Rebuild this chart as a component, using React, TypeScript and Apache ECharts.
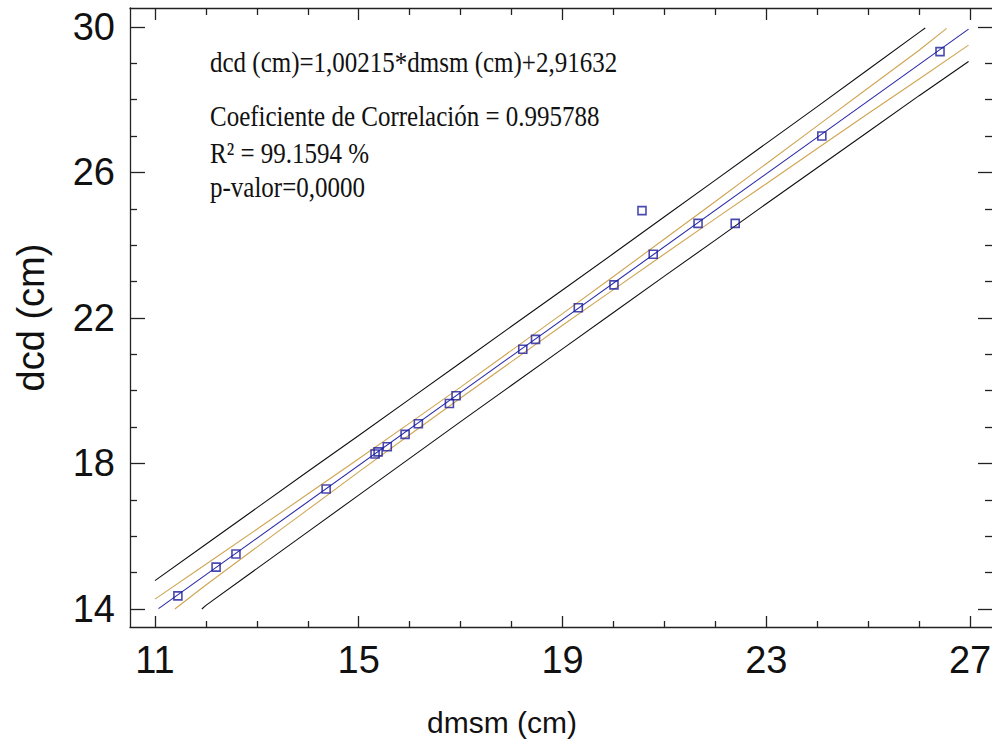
import React, { useEffect, useRef } from "react";
import * as echarts from "echarts";

// ---- data ----
const dmsm = [11.45, 12.2, 12.59, 14.36, 15.32, 15.38, 15.56, 15.91, 16.17, 16.78, 16.91, 18.22, 18.47, 19.31, 20.01, 20.56, 20.78, 21.66, 22.39, 24.09, 26.41];
const dcd = [14.36, 15.15, 15.51, 17.3, 18.26, 18.32, 18.46, 18.8, 19.09, 19.65, 19.86, 21.14, 21.41, 22.28, 22.91, 24.95, 23.75, 24.6, 24.6, 27.0, 29.32];

const fitX = [11.07, 26.97];
const fitY = [14.01, 29.94];

const confUpperX = [11, 12, 13, 14, 15, 16, 17, 18, 19, 20, 21, 22, 23, 24, 25, 26, 26.54];
const confUpperY = [14.27, 15.23, 16.19, 17.16, 18.13, 19.11, 20.1, 21.11, 22.12, 23.14, 24.17, 25.2, 26.24, 27.28, 28.32, 29.36, 29.96];
const confLowerX = [11.39, 12, 13, 14, 15, 16, 17, 18, 19, 20, 21, 22, 23, 24, 25, 26, 26.97];
const confLowerY = [14.0, 14.66, 15.7, 16.73, 17.77, 18.79, 19.8, 20.8, 21.8, 22.78, 23.76, 24.73, 25.69, 26.66, 27.62, 28.57, 29.5];

const predUpperX = [11, 12, 13, 14, 15, 16, 17, 18, 19, 20, 21, 22, 23, 24, 25, 26, 26.12];
const predUpperY = [14.78, 15.78, 16.78, 17.78, 18.77, 19.77, 20.77, 21.77, 22.77, 23.77, 24.78, 25.79, 26.8, 27.81, 28.83, 29.85, 29.97];
const predLowerX = [11.92, 12, 13, 14, 15, 16, 17, 18, 19, 20, 21, 22, 23, 24, 25, 26, 26.97];
const predLowerY = [14.0, 14.1, 15.11, 16.12, 17.13, 18.14, 19.15, 20.15, 21.15, 22.15, 23.15, 24.14, 25.14, 26.13, 27.12, 28.11, 29.05];

const xMajorTicks = [11, 15, 19, 23, 27];
const xMinorTicks = [12, 13, 14, 16, 17, 18, 20, 21, 22, 24, 25, 26];
const yMajorTicks = [14, 18, 22, 26, 30];
const yMinorTicks = [15, 16, 17, 19, 20, 21, 23, 24, 25, 27, 28, 29];

const X_MIN = 10.51;
const X_MAX = 27.45;
const Y_MIN = 13.505;
const Y_MAX = 30.52;

const annotationLines = [
  "dcd (cm)=1,00215*dmsm (cm)+2,91632",
  "Coeficiente de Correlación = 0.995788",
  "R² = 99.1594 %",
  "p-valor=0,0000",
];

const zip = (a: number[], b: number[]) => a.map((v, i) => [v, b[i]]);

const AXIS_COLOR = "#222";
const SANS = "'Liberation Sans', Arial, sans-serif";
const SERIF = "'Liberation Serif', 'Times New Roman', serif";

function makeXAxis(position: "top" | "bottom", ticks: number[], len: number, main: boolean): any {
  return {
    type: "value",
    position,
    min: X_MIN,
    max: X_MAX,
    splitLine: { show: false },
    axisLine: { show: main, onZero: false, lineStyle: { color: AXIS_COLOR, width: 1.3 } },
    axisTick: { show: true, inside: true, length: len, customValues: ticks, lineStyle: { color: AXIS_COLOR, width: 1.3 } },
    axisLabel: { show: false },
  };
}

function makeYAxis(position: "left" | "right", ticks: number[], len: number, main: boolean): any {
  return {
    type: "value",
    position,
    min: Y_MIN,
    max: Y_MAX,
    splitLine: { show: false },
    axisLine: { show: main, onZero: false, lineStyle: { color: AXIS_COLOR, width: 1.3 } },
    axisTick: { show: true, inside: true, length: len, customValues: ticks, lineStyle: { color: AXIS_COLOR, width: 1.3 } },
    axisLabel: { show: false },
  };
}

export default function App() {
  const ref = useRef<HTMLDivElement>(null);

  useEffect(() => {
    if (!ref.current) return;
    const chart = echarts.init(ref.current, null, { renderer: "svg" });

    const xBottom = makeXAxis("bottom", xMajorTicks, 11, true);
    xBottom.axisLabel = {
      show: true,
      customValues: xMajorTicks,
      fontSize: 38,
      fontFamily: SANS,
      color: "#111",
      margin: 14,
    };
    xBottom.name = "dmsm (cm)";
    xBottom.nameLocation = "middle";
    xBottom.nameGap = 80;
    xBottom.nameTextStyle = { fontSize: 30, fontFamily: SANS, color: "#111", padding: [0, 119, 0, 0] };

    const yLeft = makeYAxis("left", yMajorTicks, 15, true);
    yLeft.axisLabel = {
      show: true,
      customValues: yMajorTicks,
      fontSize: 38,
      fontFamily: SANS,
      color: "#111",
      margin: 15,
    };
    yLeft.name = "dcd (cm)";
    yLeft.nameLocation = "middle";
    yLeft.nameGap = 80;
    yLeft.nameTextStyle = { fontSize: 38, fontFamily: SANS, color: "#111" };

    const lineSeries = (name: string, xs: number[], ys: number[], color: string, width = 1.1) => ({
      name,
      type: "line",
      xAxisIndex: 0,
      yAxisIndex: 0,
      data: zip(xs, ys),
      showSymbol: false,
      symbol: "none",
      lineStyle: { color, width },
      z: 2,
    });

    const annY = [62, 116, 153, 187];

    chart.setOption({
      animation: false,
      backgroundColor: "#fff",
      grid: { left: 130, top: 8, right: -1, bottom: 113, containLabel: false, outerBoundsMode: "none" },
      xAxis: [
        xBottom,
        makeXAxis("bottom", xMinorTicks, 6, false),
        makeXAxis("top", xMajorTicks, 12, true),
        makeXAxis("top", xMinorTicks, 7, false),
      ],
      yAxis: [
        yLeft,
        makeYAxis("left", yMinorTicks, 7, false),
        makeYAxis("right", yMajorTicks, 15, true),
        makeYAxis("right", yMinorTicks, 8, false),
      ],
      series: [
        lineSeries("Límite de predicción superior", predUpperX, predUpperY, "#111"),
        lineSeries("Límite de predicción inferior", predLowerX, predLowerY, "#111"),
        lineSeries("Límite de confianza superior", confUpperX, confUpperY, "#cfa552"),
        lineSeries("Límite de confianza inferior", confLowerX, confLowerY, "#cfa552"),
        lineSeries("Modelo ajustado", fitX, fitY, "#2a2aa8"),
        {
          name: "Observaciones",
          type: "scatter",
          xAxisIndex: 0,
          yAxisIndex: 0,
          data: zip(dmsm, dcd),
          symbol: "rect",
          symbolSize: 8,
          itemStyle: { color: "rgba(255,255,255,0)", borderColor: "#1c1c9c", borderWidth: 1.6 },
          z: 5,
        },
      ],
      graphic: annotationLines.map((t, i) => ({
        type: "text",
        x: 210,
        y: annY[i],
        scaleY: 1.22,
        z: 10,
        style: {
          text: t,
          font: `25px ${SERIF}`,
          fill: "#111",
          align: "left",
          verticalAlign: "middle",
        },
      })),
    });

    return () => chart.dispose();
  }, []);

  return (
    <div
      ref={ref}
      style={{ position: "absolute", left: 0, top: 0, width: 992, height: 740, background: "#fff" }}
    />
  );
}
